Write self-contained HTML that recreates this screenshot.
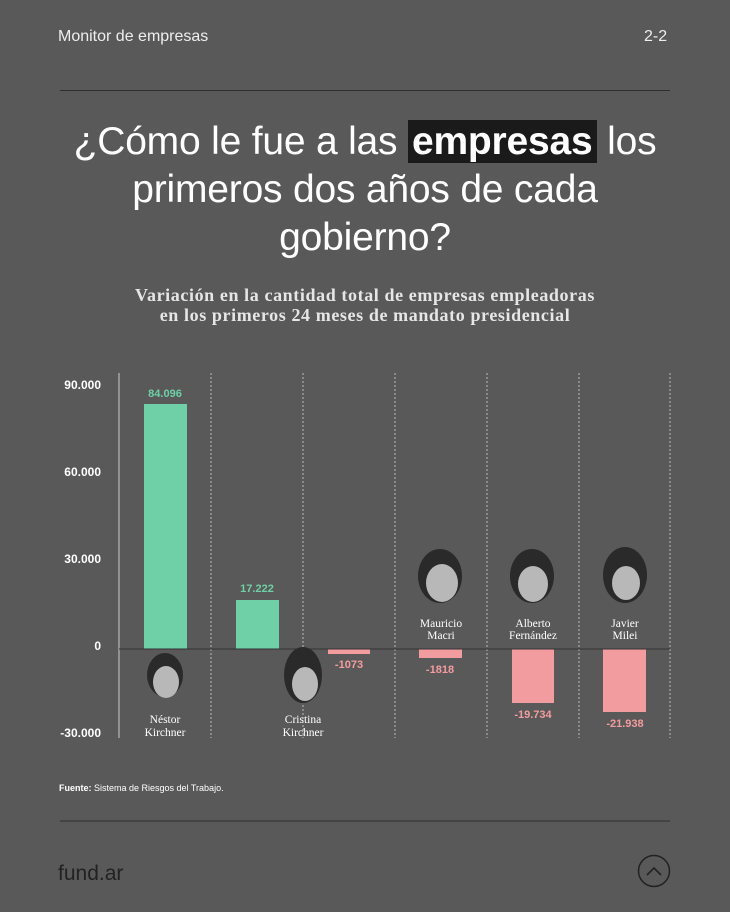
<!DOCTYPE html>
<html><head><meta charset="utf-8"><style>
body{margin:0;width:730px;height:912px;background:#595959;position:relative;overflow:hidden;font-family:"Liberation Sans",sans-serif;color:#fff}
.a{position:absolute}
.t{position:absolute;left:0;width:730px;text-align:center;font-size:39px;line-height:48px;top:118px;letter-spacing:-0.2px}
.hl{background:#1a1a1a;font-weight:bold;padding:0 4px}
.sub{position:absolute;left:0;width:730px;text-align:center;top:285px;font-family:"Liberation Serif",serif;font-weight:bold;font-size:18px;line-height:20px;color:#e6e6e6;letter-spacing:0.6px}
</style></head><body>
<div class="a" style="left:58px;top:28px;font-size:16px;color:#eee">Monitor de empresas</div>
<div class="a" style="left:644px;top:28px;font-size:16px;color:#eee">2-2</div>
<div class="a" style="left:60px;top:90px;width:610px;height:1px;background:#2e2e2e"></div>
<div class="t">¿Cómo le fue a las <span class="hl">empresas</span> los<br>primeros dos años de cada<br>gobierno?</div>
<div class="sub">Variación en la cantidad total de empresas empleadoras<br>en los primeros 24 meses de mandato presidencial</div>
<svg class="a" style="left:0;top:0" width="730" height="912">
<g font-family="Liberation Sans" font-size="12" font-weight="bold" fill="#fff" text-anchor="end">
<text x="101" y="389">90.000</text><text x="101" y="476">60.000</text><text x="101" y="563">30.000</text><text x="101" y="650">0</text><text x="101" y="737">-30.000</text></g>
<line x1="119" y1="373" x2="119" y2="738" stroke="#ccc" stroke-width="1"/>
<g stroke="#bbb" stroke-dasharray="2,2" stroke-width="1">
<line x1="211" y1="373" x2="211" y2="738"/><line x1="303" y1="373" x2="303" y2="738"/><line x1="395" y1="373" x2="395" y2="738"/><line x1="487" y1="373" x2="487" y2="738"/><line x1="579" y1="373" x2="579" y2="738"/><line x1="670" y1="373" x2="670" y2="738"/></g>
<g fill="#6fcfa6"><rect x="144" y="404" width="43" height="245"/><rect x="236" y="600" width="43" height="49"/></g>
<g fill="#f29c9f"><rect x="328" y="649" width="42" height="5"/><rect x="419" y="649" width="43" height="9"/><rect x="512" y="649" width="42" height="54"/><rect x="603" y="649" width="43" height="63"/></g>
<line x1="119" y1="649" x2="670" y2="649" stroke="#333" stroke-width="1"/>
<g font-family="Liberation Sans" font-size="11" font-weight="bold" text-anchor="middle">
<text x="165" y="397" fill="#6fcfa6">84.096</text><text x="257" y="592" fill="#6fcfa6">17.222</text>
<text x="349" y="668" fill="#f29c9f">-1073</text><text x="440" y="673" fill="#f29c9f">-1818</text><text x="533" y="718" fill="#f29c9f">-19.734</text><text x="625" y="727" fill="#f29c9f">-21.938</text></g>
<g fill="#2a2a2a"><ellipse cx="165" cy="675" rx="18" ry="22"/><ellipse cx="303" cy="675" rx="19" ry="28"/><ellipse cx="440" cy="576" rx="22" ry="27"/><ellipse cx="532" cy="576" rx="22" ry="27"/><ellipse cx="625" cy="575" rx="22" ry="28"/></g>
<g fill="#b8b8b8"><ellipse cx="166" cy="682" rx="13" ry="16"/><ellipse cx="305" cy="684" rx="13" ry="17"/><ellipse cx="442" cy="583" rx="16" ry="19"/><ellipse cx="533" cy="584" rx="15" ry="18"/><ellipse cx="626" cy="583" rx="14" ry="17"/></g>
<g font-family="Liberation Serif" font-size="11.5" fill="#fff" text-anchor="middle">
<text x="165" y="723">Néstor</text><text x="165" y="736">Kirchner</text>
<text x="303" y="723">Cristina</text><text x="303" y="736">Kirchner</text>
<text x="441" y="627">Mauricio</text><text x="441" y="639">Macri</text>
<text x="533" y="627">Alberto</text><text x="533" y="639">Fernández</text>
<text x="625" y="627">Javier</text><text x="625" y="639">Milei</text></g>
<text x="59" y="791" font-family="Liberation Sans" font-size="9" fill="#fff"><tspan font-weight="bold">Fuente:</tspan> Sistema de Riesgos del Trabajo.</text>
<line x1="60" y1="821" x2="670" y2="821" stroke="#2e2e2e"/>
<text x="58" y="880" font-family="Liberation Sans" font-size="21" fill="#222">fund.ar</text>
<circle cx="654" cy="871" r="15.5" fill="none" stroke="#222" stroke-width="1.5"/>
<polyline points="647,875 654,868 661,875" fill="none" stroke="#222" stroke-width="1.6"/>
</svg>
</body></html>
